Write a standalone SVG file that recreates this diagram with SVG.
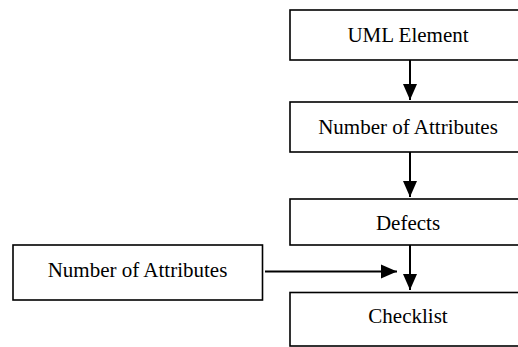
<svg xmlns="http://www.w3.org/2000/svg" width="518" height="347" viewBox="0 0 518 347">
<style>
.box{fill:#fff;stroke:#000;stroke-width:1.6}
.lbl{font-family:"Liberation Serif","Times New Roman",serif;font-size:21px;fill:#000;text-anchor:middle}
.edge{stroke:#000;stroke-width:2;fill:none;marker-end:url(#ah)}
</style>
<defs>
<marker id="ah" markerUnits="userSpaceOnUse" markerWidth="16" markerHeight="16" viewBox="0 0 16 16" refX="16" refY="8" orient="auto">
<path d="M0,1 L16,8 L0,15 Z" fill="#000"/>
</marker>
</defs>
<rect width="518" height="347" fill="#fff"/>
<g id="connectors">
<line class="edge" x1="410" y1="60" x2="410" y2="100"/>
<line class="edge" x1="410" y1="152" x2="410" y2="197"/>
<line class="edge" x1="410" y1="245" x2="410" y2="290"/>
<line class="edge" x1="265" y1="271.5" x2="397" y2="271.5"/>
</g>
<g id="uml-element"><rect class="box" x="290" y="10" width="240" height="50"/><text class="lbl" x="408" y="42">UML Element</text></g>
<g id="num-attrs-1"><rect class="box" x="290" y="102" width="240" height="50"/><text class="lbl" x="408" y="134">Number of Attributes</text></g>
<g id="defects"><rect class="box" x="290" y="199" width="240" height="46"/><text class="lbl" x="408" y="230">Defects</text></g>
<g id="num-attrs-2"><rect class="box" x="13" y="245" width="249.5" height="55"/><text class="lbl" x="137.5" y="277">Number of Attributes</text></g>
<g id="checklist"><rect class="box" x="290" y="292.5" width="240" height="53.5"/><text class="lbl" x="408" y="323">Checklist</text></g>
</svg>
